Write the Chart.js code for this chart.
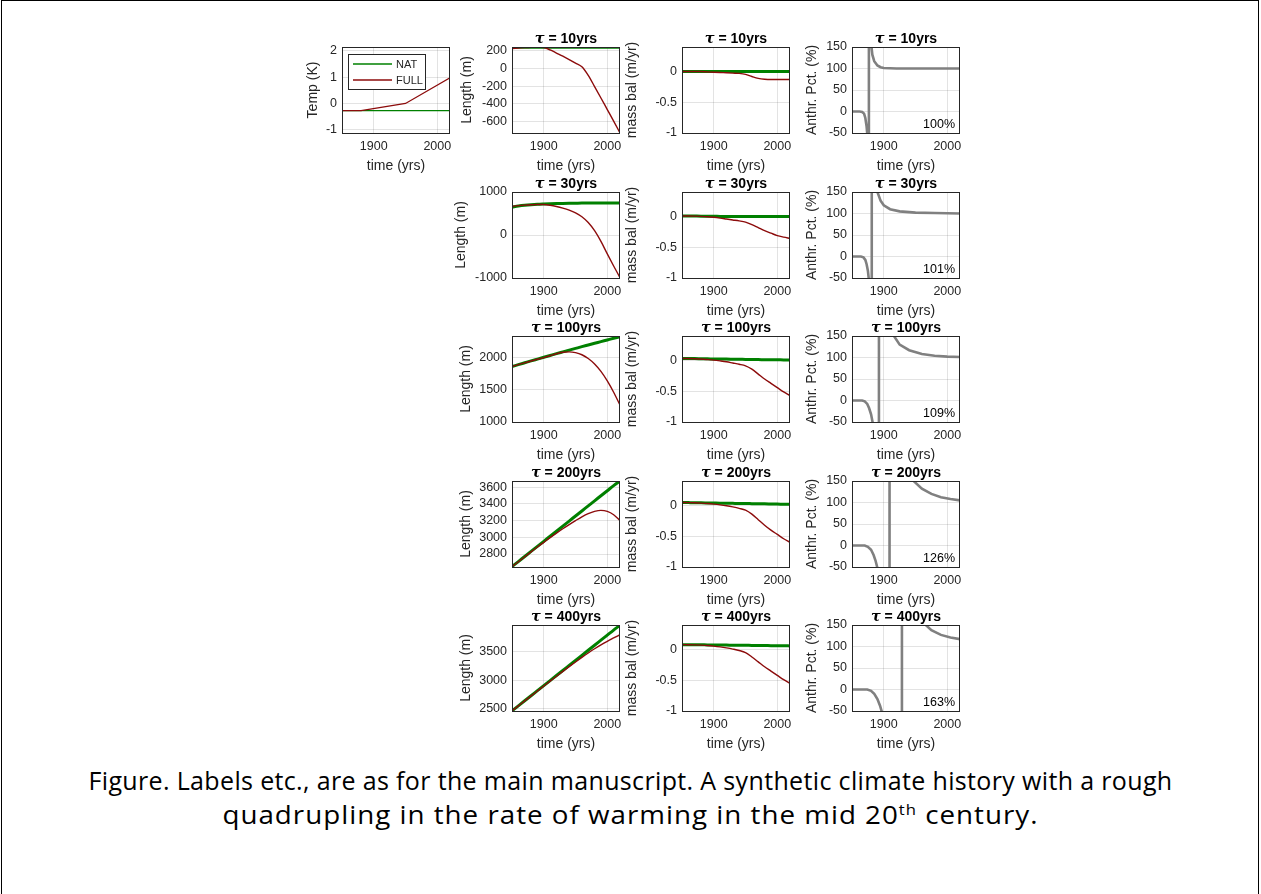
<!DOCTYPE html>
<html>
<head>
<meta charset="utf-8">
<title>Synthetic climate history - glacier response</title>
<script src="https://cdn.jsdelivr.net/npm/chart.js@4.4.1/dist/chart.umd.min.js"></script>
<style>
  html, body { margin: 0; padding: 0; background: #fff; }
  body { width: 1261px; height: 894px; position: relative; overflow: hidden; }
  #frame { position: absolute; left: 1px; top: 0; width: 1258px; height: 960px; border: 1px solid #000; box-sizing: border-box; }
  .panel { position: absolute; }
  .cap { position: absolute; left: 0; width: 1261px; text-align: center; font-family: "Open Sans", sans-serif; font-size: 25px; line-height: 34px; letter-spacing: 0.35px; color: #000; white-space: nowrap; }
  .cap sup { font-size: 15px; line-height: 0; }
  #cap2 { letter-spacing: 0.9px; transform: scaleX(1.11); transform-origin: 630.5px 50%; }
</style>
</head>
<body>
<div id="frame"></div>
<div class="cap" style="top:763px">Figure. Labels etc., are as for the main manuscript. A synthetic climate history with a rough</div>
<div class="cap" id="cap2" style="top:797px">quadrupling in the rate of warming in the mid 20<sup>th</sup> century.</div>
<script>
// ---- data ----
const YEARS = [1850, 1860, 1870, 1880, 1890, 1900, 1910, 1920, 1930, 1940, 1950, 1960, 1970, 1980, 1990, 2000, 2010, 2020];
const X_TICKS = [1900, 2000];
const TAUS = [10, 30, 100, 200, 400];

// temperature forcing (K)
const tempYears = [1850, 1880, 1950, 2020];
const tempNat = [-0.27, -0.27, -0.27, -0.27];
const tempFull = [-0.27, -0.27, 0.0, 0.97];
const tempTicks = [-1, 0, 1, 2];

// glacier length (m)
const lenNat10 = [242, 242, 242, 242, 242, 242, 242, 242, 242, 242, 242, 242, 242, 242, 242, 242, 242, 242];
const lenFull10 = [228, 233, 238, 242, 244, 240, 212, 176, 140, 102, 62, 20, -78, -206, -336, -468, -600, -735];
const lenNat30 = [652, 673, 690, 703, 713, 720, 726, 731, 735, 738, 740, 742, 743, 744, 745, 746, 746, 747];
const lenFull30 = [668, 682, 694, 703, 709, 708, 692, 664, 626, 578, 515, 425, 290, 100, -150, -440, -720, -990];
const lenNat100 = [1858, 1887, 1916, 1945, 1973, 2001, 2029, 2057, 2084, 2111, 2138, 2165, 2191, 2217, 2243, 2269, 2295, 2320];
const lenFull100 = [1858, 1887, 1915, 1943, 1970, 1996, 2024, 2055, 2078, 2085, 2072, 2040, 1982, 1897, 1782, 1635, 1460, 1262];
const lenNat200 = [2650, 2710, 2771, 2831, 2892, 2952, 3013, 3073, 3134, 3194, 3255, 3315, 3376, 3436, 3497, 3557, 3618, 3673];
const lenFull200 = [2648, 2708, 2767, 2826, 2884, 2940, 2996, 3050, 3102, 3152, 3200, 3245, 3283, 3310, 3322, 3310, 3270, 3202];
const lenNat400 = [2460, 2549, 2638, 2726, 2815, 2904, 2993, 3082, 3170, 3259, 3348, 3437, 3526, 3614, 3703, 3792, 3881, 3965];
const lenFull400 = [2460, 2548, 2636, 2723, 2810, 2897, 2983, 3069, 3154, 3238, 3320, 3400, 3478, 3552, 3620, 3683, 3742, 3800];
const lenLimits = [[-735, 245], [-1000, 1000], [1000, 2330], [2645, 3673], [2458, 3970]];
const lenTicks = [[-600, -400, -200, 0, 200], [-1000, 0, 1000], [1000, 1500, 2000], [2800, 3000, 3200, 3400, 3600], [2500, 3000, 3500]];

// mass balance (m/yr)
const massNat10 = [0, 0, 0, 0, 0, 0, 0, 0, 0, 0, 0, 0, 0, 0, 0, 0, 0, 0];
const massFull10 = [0, 0, 0, 0, -0.005, -0.01, -0.015, -0.02, -0.025, -0.03, -0.045, -0.08, -0.11, -0.125, -0.13, -0.13, -0.13, -0.13];
const massNat30 = [0.01, 0.01, 0.008, 0.006, 0.005, 0.004, 0.003, 0.002, 0.002, 0.001, 0.001, 0, 0, 0, 0, 0, 0, 0];
const massFull30 = [0.01, 0.01, 0.008, 0.004, -0.002, -0.012, -0.025, -0.04, -0.055, -0.07, -0.09, -0.13, -0.18, -0.23, -0.27, -0.31, -0.335, -0.355];
const massNat100 = [0.035, 0.033, 0.032, 0.03, 0.028, 0.027, 0.025, 0.024, 0.022, 0.02, 0.019, 0.017, 0.016, 0.014, 0.013, 0.012, 0.011, 0.01];
const massFull100 = [0.035, 0.033, 0.03, 0.025, 0.017, 0.008, -0.005, -0.02, -0.04, -0.06, -0.085, -0.14, -0.22, -0.3, -0.37, -0.44, -0.51, -0.57];
const massNat200 = [0.05, 0.048, 0.046, 0.045, 0.043, 0.041, 0.039, 0.038, 0.036, 0.034, 0.033, 0.031, 0.029, 0.028, 0.026, 0.024, 0.022, 0.02];
const massFull200 = [0.05, 0.048, 0.045, 0.04, 0.033, 0.024, 0.012, -0.003, -0.022, -0.045, -0.075, -0.14, -0.23, -0.32, -0.4, -0.47, -0.54, -0.6];
const massNat400 = [0.08, 0.079, 0.078, 0.077, 0.076, 0.075, 0.074, 0.073, 0.071, 0.07, 0.069, 0.068, 0.067, 0.066, 0.064, 0.063, 0.062, 0.06];
const massFull400 = [0.08, 0.079, 0.077, 0.073, 0.066, 0.056, 0.043, 0.027, 0.008, -0.015, -0.05, -0.12, -0.2, -0.28, -0.35, -0.42, -0.49, -0.55];
const massTicks = [-1, -0.5, 0];

// anthropogenic percentage (%), the jump is the pole where NAT and FULL cross
const pctYears10 = [1850, 1862, 1866, 1869, 1871, 1873, 1874.5, 1876.4, 1876.6, 1878.5, 1880, 1882, 1885, 1890, 1895, 1900, 1920, 1950, 2020];
const pct10 = [0, 0, -1, -5, -15, -35, -60, -1000, 1000, 220, 160, 132, 117, 107, 103, 101, 100, 100, 100];
const pctYears30 = [1850, 1864, 1868, 1871, 1873, 1875, 1877, 1880.9, 1881.1, 1884, 1887, 1890, 1895, 1900, 1910, 1925, 1950, 1980, 2020];
const pct30 = [0, 0, -2, -8, -18, -33, -60, -1000, 1000, 260, 185, 150, 130, 119, 110, 105, 102, 101, 100];
const pctYears100 = [1850, 1866, 1870, 1874, 1877, 1880, 1883, 1892.3, 1892.5, 1905, 1912, 1916, 1925, 1940, 1960, 1980, 2000, 2020];
const pct100 = [0, 0, -2, -8, -18, -32, -55, -1000, 1000, 250, 175, 150, 130, 117, 108, 104, 102, 101];
const pctYears200 = [1850, 1870, 1875, 1880, 1884, 1887, 1891, 1908.9, 1909.1, 1930, 1940, 1947, 1960, 1975, 1990, 2005, 2020];
const pct200 = [0, 0, -3, -10, -22, -35, -58, -1000, 1000, 220, 170, 150, 132, 120, 112, 108, 105];
const pctYears400 = [1850, 1874, 1880, 1885, 1890, 1894, 1898, 1928.4, 1928.6, 1950, 1960, 1966, 1975, 1990, 2005, 2020];
const pct400 = [0, 0, -3, -10, -22, -37, -57, -1000, 1000, 210, 165, 150, 138, 127, 121, 117];
const pctTicks = [-50, 0, 50, 100, 150];
const pctNotes = ['100%', '101%', '109%', '126%', '163%'];

// ---- styling / layout ----
const FONT = '"Liberation Sans", Arial, sans-serif';
const TICK_FONT = { family: FONT, size: 12.5 };
const LABEL_FONT = { family: FONT, size: 14 };
const AXIS_COLOR = '#262626';
const GRID = 'rgba(0,0,0,0.11)';
const NAT_COLOR = '#008000';
const FULL_COLOR = '#8c0b0b';
const PCT_COLOR = '#808080';
const PAD_TOP = 24, PAD_RIGHT = 14, X_BAND = 42;
const AX_W = 108, AX_H = 86;
const COL_LEFT = [342, 512, 682, 852];
const ROW_TOP = [47, 191.5, 336, 480.5, 625];

const pts = (xs, ys) => xs.map((x, i) => ({ x, y: ys[i] }));

// box, panel title, legend and corner note
const decoPlugin = {
  id: 'deco',
  afterDraw(chart, args, opts) {
    const { ctx, chartArea: a } = chart;
    ctx.save();
    ctx.strokeStyle = AXIS_COLOR;
    ctx.lineWidth = 1;
    ctx.strokeRect(Math.round(a.left) + 0.5, Math.round(a.top) + 0.5, Math.round(a.width) - 1, Math.round(a.height));

    if (opts.tau != null) {
      const tau = 'τ', rest = ' = ' + opts.tau + 'yrs';
      const tauFont = 'italic bold 14.5px "DejaVu Serif", serif';
      const restFont = 'bold 14px ' + FONT;
      ctx.font = tauFont;
      const w1 = ctx.measureText(tau).width;
      ctx.font = restFont;
      const w2 = ctx.measureText(rest).width;
      const x = (a.left + a.right) / 2 - (w1 + w2) / 2;
      const y = a.top - 8;
      ctx.fillStyle = '#000';
      ctx.textBaseline = 'middle';
      ctx.textAlign = 'left';
      ctx.font = tauFont;
      ctx.fillText(tau, x, y);
      ctx.font = restFont;
      ctx.fillText(rest, x + w1, y);
    }

    if (opts.note) {
      ctx.font = '12.5px ' + FONT;
      ctx.fillStyle = '#000';
      ctx.textAlign = 'right';
      ctx.textBaseline = 'middle';
      ctx.fillText(opts.note, a.right - 5, a.bottom - 8);
    }

    if (opts.legend) {
      const bx = a.left + 6.5, by = a.top + 7.5;
      ctx.fillStyle = '#fff';
      ctx.fillRect(bx, by, 77, 35);
      ctx.strokeStyle = AXIS_COLOR;
      ctx.strokeRect(bx, by, 77, 35);
      ctx.font = '11px ' + FONT;
      ctx.textAlign = 'left';
      ctx.textBaseline = 'middle';
      chart.data.datasets.forEach((ds, i) => {
        const y = a.top + 17 + i * 16;
        ctx.strokeStyle = ds.borderColor;
        ctx.lineWidth = 1.3;
        ctx.beginPath();
        ctx.moveTo(a.left + 11, y);
        ctx.lineTo(a.left + 50, y);
        ctx.stroke();
        ctx.fillStyle = AXIS_COLOR;
        ctx.fillText(ds.label, a.left + 54, y + 0.5);
      });
    }
    ctx.restore();
  }
};

function addPanel(p) {
  const W = Math.round(p.yOff + 8.4);
  const left = Math.round(p.left) - W;
  const top = Math.round(p.top) - PAD_TOP;
  const width = W + AX_W + PAD_RIGHT;
  const height = PAD_TOP + AX_H + X_BAND;
  const cv = document.createElement('canvas');
  cv.className = 'panel';
  cv.width = width;
  cv.height = height;
  cv.style.left = left + 'px';
  cv.style.top = top + 'px';
  cv.style.width = width + 'px';
  cv.style.height = height + 'px';
  document.body.appendChild(cv);

  return new Chart(cv, {
    type: 'line',
    data: { datasets: p.datasets },
    options: {
      responsive: false,
      animation: false,
      devicePixelRatio: 1,
      layout: { padding: { top: PAD_TOP, right: PAD_RIGHT, left: 0, bottom: 0 } },
      plugins: { legend: { display: false }, tooltip: { enabled: false }, deco: p.deco },
      elements: { point: { radius: 0 }, line: { tension: 0 } },
      scales: {
        x: {
          type: 'linear', min: 1850, max: 2020,
          afterBuildTicks: s => { s.ticks = X_TICKS.map(v => ({ value: v })); },
          afterFit: s => { s.height = X_BAND; },
          ticks: { font: TICK_FONT, color: AXIS_COLOR, padding: 6.5, maxRotation: 0, autoSkip: false, callback: v => String(v) },
          grid: { color: GRID, drawTicks: false },
          border: { display: false },
          title: { display: true, text: 'time (yrs)', font: LABEL_FONT, color: AXIS_COLOR, padding: 0 }
        },
        y: {
          type: 'linear', min: p.ymin, max: p.ymax,
          afterBuildTicks: s => { s.ticks = p.yTicks.map(v => ({ value: v })); },
          afterFit: s => { s.width = W; },
          ticks: { font: TICK_FONT, color: AXIS_COLOR, padding: 5, autoSkip: false, callback: v => String(v) },
          grid: { color: GRID, drawTicks: false },
          border: { display: false },
          title: { display: true, text: p.yTitle, font: LABEL_FONT, color: AXIS_COLOR, padding: 0 }
        }
      }
    },
    plugins: [decoPlugin]
  });
}

function pair(nat, full, natWidth, fullWidth, smooth, xs) {
  const mode = smooth ? 'monotone' : 'default';
  return [
    { label: 'NAT', data: pts(xs || YEARS, nat), borderColor: NAT_COLOR, borderWidth: natWidth, order: 1, cubicInterpolationMode: mode },
    { label: 'FULL', data: pts(xs || YEARS, full), borderColor: FULL_COLOR, borderWidth: fullWidth, order: 0, cubicInterpolationMode: mode }
  ];
}

// temperature panel
addPanel({
  left: COL_LEFT[0], top: ROW_TOP[0], yOff: 29,
  ymin: -1.12, ymax: 2.14, yTicks: tempTicks, yTitle: 'Temp (K)',
  datasets: pair(tempNat, tempFull, 1.3, 1.3, false, tempYears),
  deco: { legend: true }
});

const lenNat = [lenNat10, lenNat30, lenNat100, lenNat200, lenNat400];
const lenFull = [lenFull10, lenFull30, lenFull100, lenFull200, lenFull400];
const massNat = [massNat10, massNat30, massNat100, massNat200, massNat400];
const massFull = [massFull10, massFull30, massFull100, massFull200, massFull400];
const pctYears = [pctYears10, pctYears30, pctYears100, pctYears200, pctYears400];
const pctVals = [pct10, pct30, pct100, pct200, pct400];
const lenYOff = [45, 51, 46, 46, 46];

TAUS.forEach((tau, r) => {
  addPanel({
    left: COL_LEFT[1], top: ROW_TOP[r], yOff: lenYOff[r],
    ymin: lenLimits[r][0], ymax: lenLimits[r][1], yTicks: lenTicks[r], yTitle: 'Length (m)',
    datasets: pair(lenNat[r], lenFull[r], 3, 1.4, true),
    deco: { tau }
  });
  addPanel({
    left: COL_LEFT[2], top: ROW_TOP[r], yOff: 50,
    ymin: -1, ymax: 0.4, yTicks: massTicks, yTitle: 'mass bal (m/yr)',
    datasets: pair(massNat[r], massFull[r], 3, 1.4, true),
    deco: { tau }
  });
  addPanel({
    left: COL_LEFT[3], top: ROW_TOP[r], yOff: 40,
    ymin: -50, ymax: 150, yTicks: pctTicks, yTitle: 'Anthr. Pct. (%)',
    datasets: [{ label: 'Anthr', data: pts(pctYears[r], pctVals[r]), borderColor: PCT_COLOR, borderWidth: 2.6 }],
    deco: { tau, note: pctNotes[r] }
  });
});
</script>
</body>
</html>
